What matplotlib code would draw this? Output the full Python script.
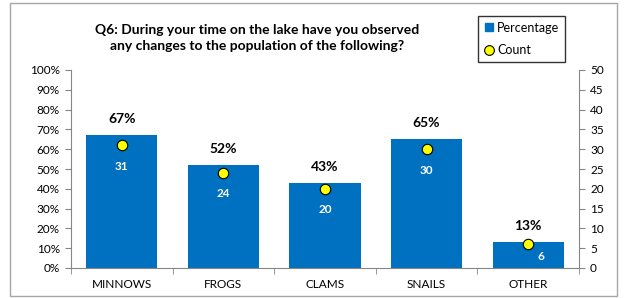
import matplotlib.pyplot as plt
from matplotlib.patches import Rectangle
from matplotlib.lines import Line2D
import numpy as np

plt.rcParams['font.family'] = ['Lato', 'DejaVu Sans']

categories = ["MINNOWS", "FROGS", "CLAMS", "SNAILS", "OTHER"]
percentage = [67, 52, 43, 65, 13]
count = [31, 24, 20, 30, 6]

blue = '#0070C0'
grey = '#868686'

fig = plt.figure(figsize=(6.26, 2.98), dpi=100)
# outer chart border
fig.patches.append(Rectangle((10 / 626, 2 / 298), 607 / 626, 293 / 298,
                             transform=fig.transFigure, fill=False,
                             edgecolor='#A6A6A6', linewidth=1))

ax = fig.add_axes([71 / 626, 30 / 298, 508 / 626, 198 / 298])
x = np.arange(len(categories))
ax.bar(x, percentage, width=0.7, color=blue, zorder=2)
ax.set_xlim(-0.5, len(categories) - 0.5)
ax.set_ylim(0, 100)
ax.set_yticks(np.arange(0, 101, 10))
ax.set_yticklabels([f"{v}%" for v in range(0, 101, 10)])
ax.set_xticks(x)
ax.set_xticklabels(categories)
ax.set_xticks(np.arange(-0.5, len(categories), 1), minor=True)
ax.tick_params(axis='x', which='major', length=0, pad=8, labelsize=8.5)
ax.tick_params(axis='x', which='minor', length=4, color=grey, direction='out')
ax.tick_params(axis='y', length=4, color=grey, labelsize=8.5, pad=4)
for s in ['top', 'right']:
    ax.spines[s].set_visible(False)
for s in ['left', 'bottom']:
    ax.spines[s].set_color(grey)

for xi, p in zip(x, percentage):
    ax.text(xi, p + 5, f"{p}%", ha='center', va='bottom', fontsize=10,
            fontweight='bold', color='black')

ax2 = ax.twinx()
ax2.set_ylim(0, 50)
ax2.set_yticks(np.arange(0, 51, 5))
ax2.tick_params(axis='y', length=4, color=grey, labelsize=8.5, pad=4)
for s in ['top', 'left', 'bottom']:
    ax2.spines[s].set_visible(False)
ax2.spines['right'].set_color(grey)
ax2.plot(x, count, linestyle='none', marker='o', markersize=7.5,
         markerfacecolor='#FFFF00', markeredgecolor='black',
         markeredgewidth=0.8, zorder=3)
for xi, c in zip(x, count):
    # short bars: Excel squeezes the label to the lower right of the marker
    if c < 10:
        ax2.annotate(f"{c}", (xi, c), xytext=(13, -12),
                     textcoords='offset pixels', ha='center', va='center',
                     fontsize=8.5, fontweight='bold', color='white')
    else:
        ax2.annotate(f"{c}", (xi, c), xytext=(0, -21),
                     textcoords='offset pixels', ha='center', va='center',
                     fontsize=8.5, fontweight='bold', color='white')

fig.text(257 / 626, 1 - 38 / 298,
         "Q6: During your time on the lake have you observed\n"
         "any changes to the population of the following?",
         ha='center', va='center', fontsize=10, fontweight='bold',
         linespacing=1.5)

handles = [Line2D([], [], linestyle='none', marker='s', markersize=6,
                  markerfacecolor=blue, markeredgecolor=blue),
           Line2D([], [], linestyle='none', marker='o', markersize=7,
                  markerfacecolor='#FFFF00', markeredgecolor='black',
                  markeredgewidth=0.8)]
leg = fig.legend(handles, ["Percentage", "Count"],
                 loc='upper left', bbox_to_anchor=(478 / 626, 1 - 16 / 298),
                 frameon=True, fancybox=False, edgecolor='black',
                 fontsize=9, handlelength=0.8, handletextpad=0.3,
                 borderpad=0.45, labelspacing=0.85, borderaxespad=0)
leg.get_frame().set_linewidth(1)

fig.savefig("out.png", dpi=100)
